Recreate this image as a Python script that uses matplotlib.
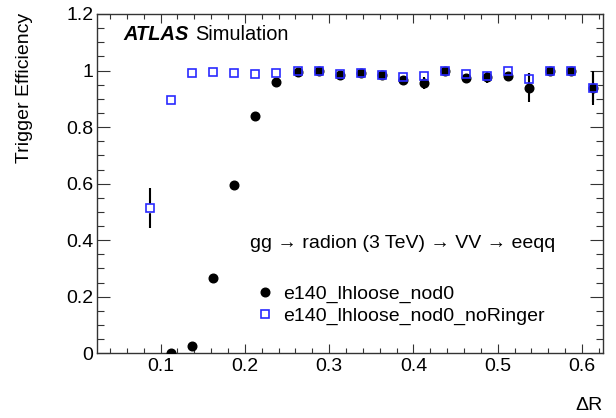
import matplotlib
matplotlib.use('Agg')
import matplotlib.pyplot as plt
from matplotlib.ticker import MultipleLocator, FuncFormatter
from matplotlib.lines import Line2D

plt.rcParams['font.family'] = ['Liberation Sans', 'DejaVu Sans']
plt.rcParams['font.size'] = 14

# bin centres in delta R
dr_ringer = [0.1125, 0.1375, 0.1625, 0.1875, 0.2125, 0.2375, 0.2625, 0.2875, 0.3125, 0.3375, 0.3625,
             0.3875, 0.4125, 0.4375, 0.4625, 0.4875, 0.5125, 0.5375, 0.5625, 0.5875, 0.6125]
eff_ringer = [0.001, 0.027, 0.267, 0.596, 0.841, 0.959, 0.994, 0.998, 0.983, 0.991, 0.983,
              0.968, 0.956, 1.000, 0.975, 0.976, 0.982, 0.940, 1.000, 1.000, 0.9375]
err_ringer = [0.002, 0.005, 0.01, 0.01, 0.01, 0.008, 0.004, 0.003, 0.006, 0.005, 0.006,
              0.012, 0.02, 0.002, 0.01, 0.02, 0.01, 0.05, 0.002, 0.002, 0.06]

dr_noringer = [0.0875, 0.1125, 0.1375, 0.1625, 0.1875, 0.2125, 0.2375, 0.2625, 0.2875, 0.3125, 0.3375,
               0.3625, 0.3875, 0.4125, 0.4375, 0.4625, 0.4875, 0.5125, 0.5375, 0.5625, 0.5875, 0.6125]
eff_noringer = [0.513, 0.897, 0.992, 0.995, 0.993, 0.989, 0.992, 1.000, 1.000, 0.988, 0.993,
                0.986, 0.976, 0.980, 1.000, 0.989, 0.979, 1.000, 0.971, 1.000, 1.000, 0.9375]
err_noringer = [0.071, 0.012, 0.004, 0.004, 0.004, 0.005, 0.005, 0.002, 0.002, 0.005, 0.005,
                0.006, 0.01, 0.01, 0.002, 0.008, 0.01, 0.002, 0.02, 0.002, 0.002, 0.05]

label_ringer = 'e140_lhloose_nod0'
label_noringer = 'e140_lhloose_nod0_noRinger'
process_text = 'gg \u2192 radion (3 TeV) \u2192 VV \u2192 eeqq'

BLUE = '#2a2aff'

W, H = 616, 418
fig = plt.figure(figsize=(W / 100, H / 100), dpi=100)
ax = fig.add_axes([97.3 / W, 1 - 353.3 / H, (603.1 - 97.3) / W, (353.3 - 14) / H])

# error bars of the square series (below everything)
ax.errorbar(dr_noringer, eff_noringer, yerr=err_noringer, fmt='none', ecolor='black',
            elinewidth=1.5, capsize=0, zorder=1)
# white filling so the error line does not cross the open squares
ax.plot(dr_noringer, eff_noringer, ls='none', marker='s', ms=6.3, mfc='white', mec='white', zorder=2)
# filled circles
ax.errorbar(dr_ringer, eff_ringer, yerr=err_ringer, fmt='o', color='black', ms=6.2,
            elinewidth=1.5, capsize=0, zorder=3)
# open squares on top
ax.plot(dr_noringer, eff_noringer, ls='none', marker='s', ms=6.3, mfc='none', mec=BLUE,
        mew=1.2, zorder=4)

ax.set_xlim(0.025, 0.625)
ax.set_ylim(0, 1.2)
ax.xaxis.set_major_locator(MultipleLocator(0.1))
ax.xaxis.set_minor_locator(MultipleLocator(0.02))
ax.yaxis.set_major_locator(MultipleLocator(0.2))
ax.yaxis.set_minor_locator(MultipleLocator(0.05))
fmt = FuncFormatter(lambda v, p: f'{v:g}')
ax.xaxis.set_major_formatter(fmt)
ax.yaxis.set_major_formatter(fmt)

ax.tick_params(axis='both', which='both', direction='in', top=True, right=True,
               width=0.8, color='#333333', labelsize=14)
ax.tick_params(axis='y', which='major', length=9.4, pad=2.9)
ax.tick_params(axis='y', which='minor', length=5)
ax.tick_params(axis='x', which='major', length=6.5, pad=3.2)
ax.tick_params(axis='x', which='minor', length=3.6)
for sp in ax.spines.values():
    sp.set_linewidth(1.0)
    sp.set_color('#333333')

fig.text(25 / W, 1 - 13 / H, 'Trigger Efficiency', rotation=90, ha='center', va='top', fontsize=14)
fig.text(603 / W, 1 - 405 / H, '\u0394R', ha='right', va='center', fontsize=14)

fig.text(123 / W, 1 - 35 / H, 'ATLAS', fontweight='bold', fontstyle='italic', ha='left', va='center',
         fontsize=14.4)
fig.text(195 / W, 1 - 35 / H, 'Simulation', ha='left', va='center', fontsize=14.4)
fig.text(250 / W, 1 - 243.3 / H, process_text, ha='left', va='center', fontsize=14)

handles = [
    Line2D([], [], ls='none', marker='o', color='black', ms=6.2),
    Line2D([], [], ls='none', marker='s', mfc='none', mec=BLUE, mew=1.2, ms=6.3),
]
ax.legend(handles, [label_ringer, label_noringer], loc='upper left',
          bbox_to_anchor=((257.2 - 97.3) / 505.8, (353.3 - 285) / 339.3),
          frameon=False, borderpad=0, borderaxespad=0, handlelength=0.8,
          handletextpad=0.52, labelspacing=0.25, fontsize=14)

fig.savefig('out.png', dpi=100)
